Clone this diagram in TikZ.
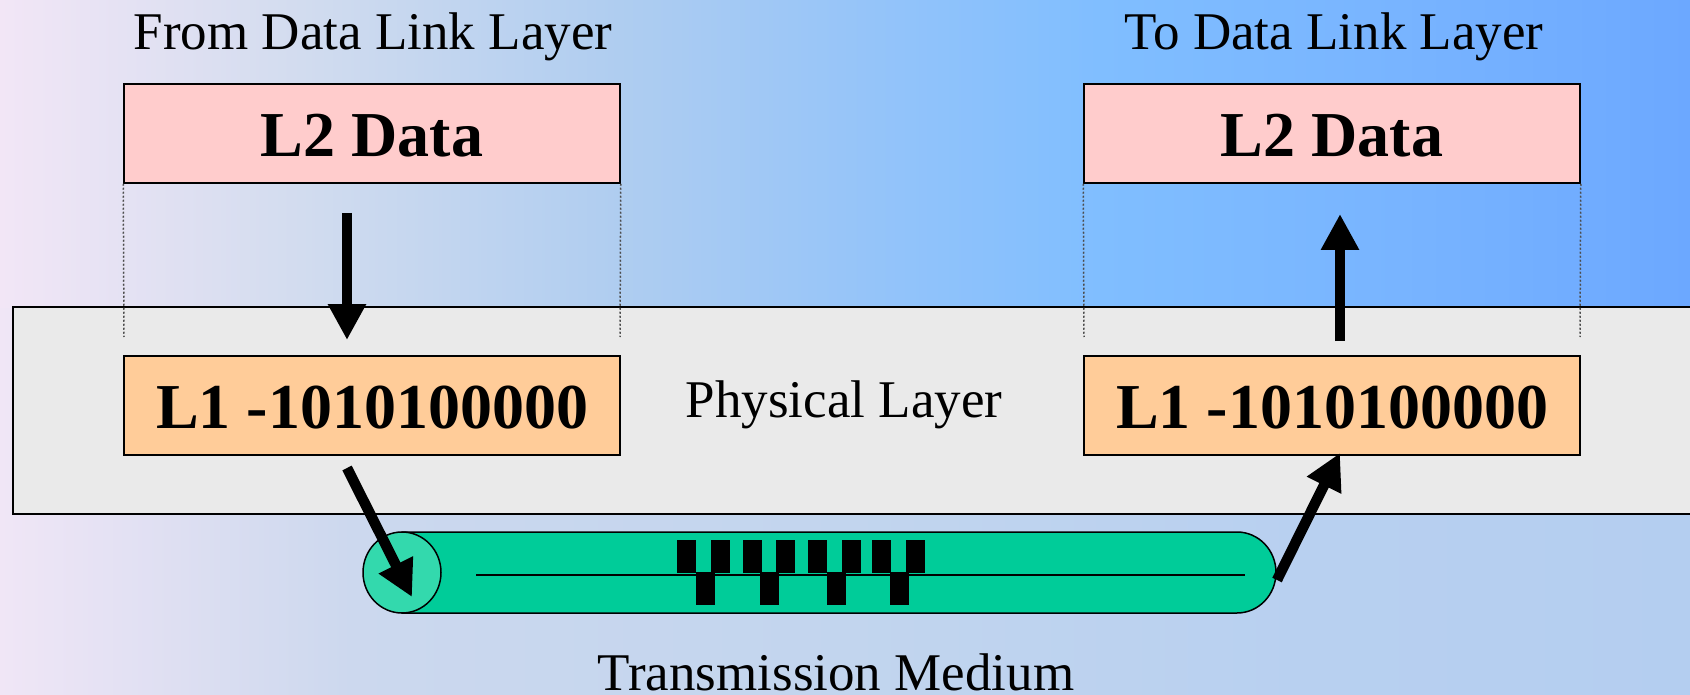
\documentclass[tikz,border=0pt]{standalone}
\usepackage{fontspec}
\setmainfont{Liberation Serif}
\usetikzlibrary{arrows.meta}
\definecolor{phys}{HTML}{EAEAEA}
\definecolor{ltwo}{HTML}{FFCCCC}
\definecolor{lone}{HTML}{FFCC99}
\definecolor{cable}{HTML}{00CC99}
\definecolor{cablecap}{HTML}{33D9AD}
\definecolor{tb0}{HTML}{F2E6F6}
\definecolor{tb1}{HTML}{D2DCEF}
\definecolor{tb2}{HTML}{AFCDF0}
\definecolor{tb3}{HTML}{92C3FA}
\definecolor{tb4}{HTML}{80BEFF}
\definecolor{tb5}{HTML}{78B4FF}
\definecolor{tb6}{HTML}{6CA8FF}
\definecolor{bb0}{HTML}{F0E6F6}
\definecolor{bb1}{HTML}{CCD8EE}
\definecolor{bb2}{HTML}{C2D5EE}
\definecolor{bb3}{HTML}{B8D0F0}
\definecolor{bb4}{HTML}{B4CEF0}
\pgfdeclarehorizontalshading{topbg}{100bp}{color(0bp)=(tb0); color(25bp)=(tb0); color(33.9bp)=(tb1); color(43.3bp)=(tb2); color(51.6bp)=(tb3); color(57.5bp)=(tb4); color(66.4bp)=(tb5); color(75bp)=(tb6); color(100bp)=(tb6)}
\pgfdeclarehorizontalshading{botbg}{100bp}{color(0bp)=(bb0); color(25bp)=(bb0); color(35.4bp)=(bb1); color(50bp)=(bb2); color(63.5bp)=(bb3); color(75bp)=(bb4); color(100bp)=(bb4)}
\tikzset{
  lbl/.style={font=\fontsize{53}{60}\selectfont, inner sep=0pt, anchor=base},
  ltwobox/.style={draw=black, line width=1.5pt, fill=ltwo, minimum width=496pt, minimum height=99pt, inner sep=0pt,
     font=\fontsize{64}{70}\selectfont\bfseries, text height=47pt, text depth=0pt},
  lonebox/.style={draw=black, line width=1.8pt, fill=lone, minimum width=496pt, minimum height=99pt, inner sep=0pt,
     font=\fontsize{64}{70}\selectfont\bfseries, text height=45pt, text depth=0pt},
  bigarrow/.style={line width=10.5pt, -{Triangle[length=36pt,width=36pt]}},
  guide/.style={line width=1.5pt, draw=black!70, dash pattern=on 2pt off 2pt},
}
\begin{document}
\begin{tikzpicture}[x=1pt,y=-1pt]
\useasboundingbox (0,0) rectangle (1690,695);
\begin{scope}
\clip (0,0) rectangle (1690,695);
% background
\shade[shading=topbg] (0,0) rectangle (1690,310);
\shade[shading=botbg] (0,308) rectangle (1690,695);
% physical layer band
\node[draw=black, line width=2pt, fill=phys, minimum width=1700pt, minimum height=207pt, inner sep=0pt, anchor=north west] (band) at (12,306) {};
\node[lbl] (phystxt) at (844,417) {Physical Layer};

% top labels
\node[lbl] (fromtxt) at (373,50) {From Data Link Layer};
\node[lbl] (totxt) at (1334,50) {To Data Link Layer};

% boxes
\node[ltwobox] (l2a) at (372,133.5) {L2 Data};
\node[ltwobox] (l2b) at (1332,133.5) {L2 Data};
\node[lonebox] (l1a) at (372,405.5) {L1 -1010100000};
\node[lonebox] (l1b) at (1332,405.5) {L1 -1010100000};

% dotted guides
\coordinate (ga1) at (124,337); \coordinate (ga2) at (620,337);
\coordinate (gb1) at (1084,337); \coordinate (gb2) at (1580,337);
\draw[guide] (l2a.south west) -- (ga1);
\draw[guide] (l2a.south east) -- (ga2);
\draw[guide] (l2b.south west) -- (gb1);
\draw[guide] (l2b.south east) -- (gb2);

% cable
\draw[line width=1.5pt, fill=cable] (402,532) -- (1237,532)
   arc[start angle=-90, end angle=90, x radius=39, y radius=40.5] -- (402,613) -- cycle;
\draw[line width=1.5pt, fill=cablecap] (402,572.5) ellipse [x radius=39, y radius=40.5];
\draw[line width=1.5pt] (476,575) -- (1245,575);
\foreach \bx in {677,711,743,776,808,842,872,906}
  \fill (\bx,540) rectangle ++(18.5,33);
\foreach \bx in {696,760,827,890}
  \fill (\bx,572) rectangle ++(18.5,33);
\node[lbl] (medtxt) at (836,690) {Transmission Medium};

% arrows
\coordinate (downs) at (347,213); \coordinate (downe) at (347,340);
\coordinate (diags) at (347,468); \coordinate (diage) at (412,597);
\coordinate (ups) at (1340,341); \coordinate (upe) at (1340,214);
\coordinate (rdiags) at (1277,580); \coordinate (rdiage) at (1340,453);
\draw[bigarrow] (downs) -- (downe);
\draw[bigarrow] (diags) -- (diage);
\draw[bigarrow] (ups) -- (upe);
\draw[bigarrow] (rdiags) -- (rdiage);
\end{scope}
\end{tikzpicture}
\end{document}
